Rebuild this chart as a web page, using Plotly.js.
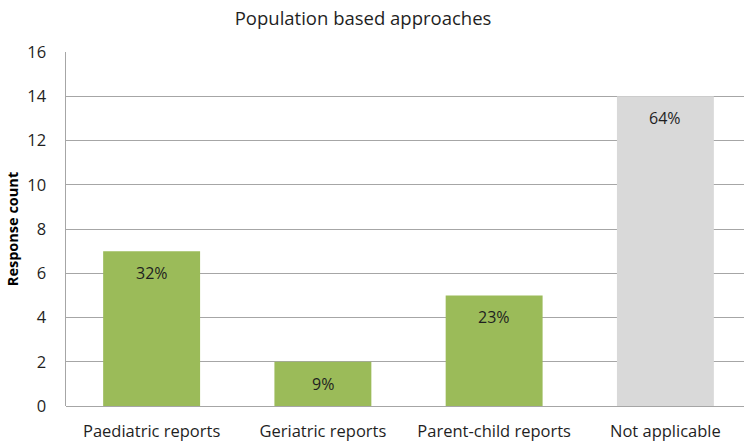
<!DOCTYPE html>
<html><head><meta charset="utf-8">
<script src="https://cdn.plot.ly/plotly-3.0.1.min.js"></script>
<style>html,body{margin:0;padding:0;background:#fff}#chart{width:744px;height:442px}</style>
</head><body><div id="chart"></div>
<script>
const categories = ["Paediatric reports", "Geriatric reports", "Parent-child reports", "Not applicable"];
const responseCounts = [7, 2, 5, 14];
const percentLabels = ["32%", "9%", "23%", "64%"];
const barColors = ["#9BBB59", "#9BBB59", "#9BBB59", "#D9D9D9"];
const yTicks = [0, 2, 4, 6, 8, 10, 12, 14, 16];

const font = "Open Sans, DejaVu Sans, sans-serif";
const textColor = "#1f1f1f";
const annotations = categories.map((c, i) => ({
  x: c, y: responseCounts[i], xref: "x", yref: "y",
  text: percentLabels[i], showarrow: false,
  yanchor: "top", yshift: -9,
  font: {family: font, size: 16, color: textColor}
}));

Plotly.newPlot("chart", [{
  type: "bar",
  x: categories,
  y: responseCounts,
  marker: {color: barColors, line: {width: 0}},
  hoverinfo: "none"
}], {
  width: 744, height: 442,
  margin: {l: 66, r: 0, t: 52, b: 36, pad: 0},
  paper_bgcolor: "#fff", plot_bgcolor: "#fff",
  bargap: 0.434,
  showlegend: false,
  annotations: annotations,
  title: {text: "Population based approaches", x: 0.488, xanchor: "center", y: 0.959, yanchor: "middle",
          font: {family: font, size: 18.5, color: textColor}},
  xaxis: {range: [-0.5, 3.459], showgrid: false, zeroline: false, showline: false,
          ticks: "", ticklabelstandoff: 13, tickfont: {family: font, size: 16.5, color: textColor}, fixedrange: true},
  yaxis: {range: [0, 16], tickvals: yTicks, ticktext: yTicks.map(String),
          showgrid: true, gridcolor: "#A6A6A6", gridwidth: 1, zeroline: true, zerolinecolor: "#A6A6A6",
          showline: true, linecolor: "#A6A6A6", linewidth: 1.5, ticks: "", ticklabelstandoff: 15,
          tickfont: {family: font, size: 16.5, color: textColor},
          title: {text: "<b>Response count</b>", standoff: 5, font: {family: font, size: 14.5, color: "#000"}}}
}, {staticPlot: true});
</script></body></html>
